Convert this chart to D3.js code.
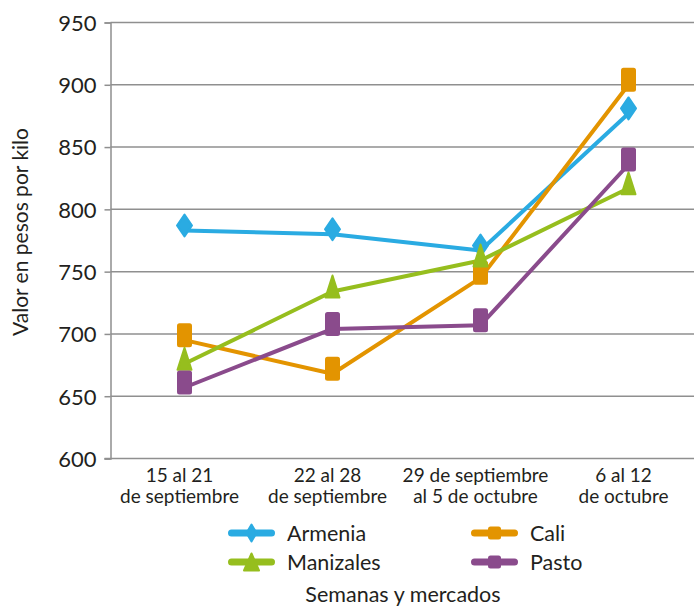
<!DOCTYPE html>
<html><head><meta charset="utf-8">
<script src="https://cdn.jsdelivr.net/npm/d3@7"></script>
<style>
body{margin:0;background:#fff;}
svg{display:block;font-family:Lato,"Open Sans",sans-serif;}
</style></head>
<body><div id="chart"></div>
<script>
const categories = [["15 al 21","de septiembre"],["22 al 28","de septiembre"],["29 de septiembre","al 5 de octubre"],["6 al 12","de octubre"]];
const armenia   = [783, 780, 767, 877];
const cali      = [695, 668, 745, 900];
const manizales = [676, 734, 759, 817];
const pasto     = [657, 704, 707, 836];
const yTicks    = [600, 650, 700, 750, 800, 850, 900, 950];
const seriesNames = ["Armenia","Cali","Manizales","Pasto"];

const series = [
  {name:"Armenia", values:armenia, color:"#2aabe2", shape:"diamond"},
  {name:"Cali", values:cali, color:"#e39400", shape:"square"},
  {name:"Manizales", values:manizales, color:"#96be1e", shape:"triangle"},
  {name:"Pasto", values:pasto, color:"#8a4b8c", shape:"square"}
];

const W = 694, H = 606;
const svg = d3.select("#chart").append("svg").attr("width", W).attr("height", H);
const mLeft = 110.5, mTop = 22.5, mBottom = 458.5, mRight = 702.5;

const x = d3.scaleBand().domain(d3.range(categories.length)).range([mLeft, mRight]);
const y = d3.scaleLinear().domain([600, 950]).range([mBottom, mTop]);
const textColor = "#231f20";

// gridlines
svg.append("g").selectAll("line").data(yTicks.slice(1)).join("line")
  .attr("x1", mLeft).attr("x2", W).attr("y1", d => y(d)).attr("y2", d => y(d))
  .attr("stroke", "#8f8f8f").attr("stroke-width", 1.5);

// y axis
const yAxis = svg.append("g").attr("transform", `translate(${mLeft},0)`)
  .call(d3.axisLeft(y).tickValues(yTicks).tickSize(6).tickPadding(8));
yAxis.select(".domain").attr("stroke", "#8f8f8f").attr("stroke-width", 1.5);
yAxis.selectAll(".tick line").attr("stroke", "#8f8f8f").attr("stroke-width", 1.5);
yAxis.selectAll(".tick text").attr("fill", textColor).style("font-size", "22px").style("font-family", "Lato, sans-serif").attr("dy", "0.36em");

// x axis line
svg.append("line").attr("x1", mLeft - 6).attr("x2", W).attr("y1", mBottom).attr("y2", mBottom)
  .attr("stroke", "#8f8f8f").attr("stroke-width", 1.5);

// x labels
const xl = svg.append("g").selectAll("text").data(categories).join("text")
  .attr("text-anchor", "middle").attr("fill", textColor).style("font-size", "19px")
  .attr("transform", (d, i) => `translate(${x(i) + x.bandwidth()/2 - 5},482)`);
xl.selectAll("tspan").data(d => d).join("tspan")
  .attr("x", 0).attr("y", (d, i) => i * 21).text(d => d);

// y title
svg.append("text").attr("transform", "translate(28,232) rotate(-90)")
  .attr("text-anchor", "middle").attr("fill", textColor).style("font-size", "21px")
  .text("Valor en pesos por kilo");

function marker(g, shape, color, w, h) {
  if (shape === "diamond") {
    g.append("path").attr("d", `M0,${-h/2}L${w/2},0L0,${h/2}L${-w/2},0Z`)
      .attr("fill", color).attr("stroke", color).attr("stroke-width", 2).attr("stroke-linejoin", "round");
  } else if (shape === "square") {
    g.append("rect").attr("x", -w/2).attr("y", -h/2).attr("width", w).attr("height", h)
      .attr("rx", 2.5).attr("fill", color);
  } else {
    g.append("path").attr("d", `M0,${-h/2}L${w/2},${h/2}L${-w/2},${h/2}Z`)
      .attr("fill", color).attr("stroke", color).attr("stroke-width", 2).attr("stroke-linejoin", "round");
  }
}

const line = d3.line().x((d, i) => x(i) + x.bandwidth()/2).y(d => y(d));
const plot = svg.append("g");
series.forEach(s => {
  plot.append("path").datum(s.values).attr("d", line)
    .attr("fill", "none").attr("stroke", s.color).attr("stroke-width", 4).attr("stroke-linejoin", "round");
});
series.forEach(s => {
  s.values.forEach((v, i) => {
    const g = plot.append("g").attr("transform", `translate(${x(i) + x.bandwidth()/2},${y(v) - 5})`);
    marker(g, s.shape, s.color, s.shape === "triangle" ? 14 : 15, s.shape === "square" ? 24 : 22);
  });
});

// legend
const legPos = {Armenia:[228, 533], Cali:[471, 533], Manizales:[228, 562], Pasto:[471, 562]};
series.forEach(s => {
  const [lx, ly] = legPos[s.name];
  const g = svg.append("g").attr("transform", `translate(${lx},${ly})`);
  g.append("line").attr("x1", 3.5).attr("x2", 43.5).attr("y1", 0).attr("y2", 0)
    .attr("stroke", s.color).attr("stroke-width", 7).attr("stroke-linecap", "round");
  const m = g.append("g").attr("transform", `translate(23.5,0)`);
  if (s.shape === "diamond") marker(m, s.shape, s.color, 10, 17);
  else if (s.shape === "triangle") marker(m, s.shape, s.color, 15, 17);
  else marker(m, s.shape, s.color, 13, 13);
  g.append("text").attr("x", 59).attr("y", 7.5).attr("fill", textColor)
    .style("font-size", "21.5px").text(s.name);
});

svg.append("text").attr("x", 403).attr("y", 602).attr("text-anchor", "middle")
  .attr("fill", textColor).style("font-size", "21.5px").text("Semanas y mercados");
</script></body></html>
